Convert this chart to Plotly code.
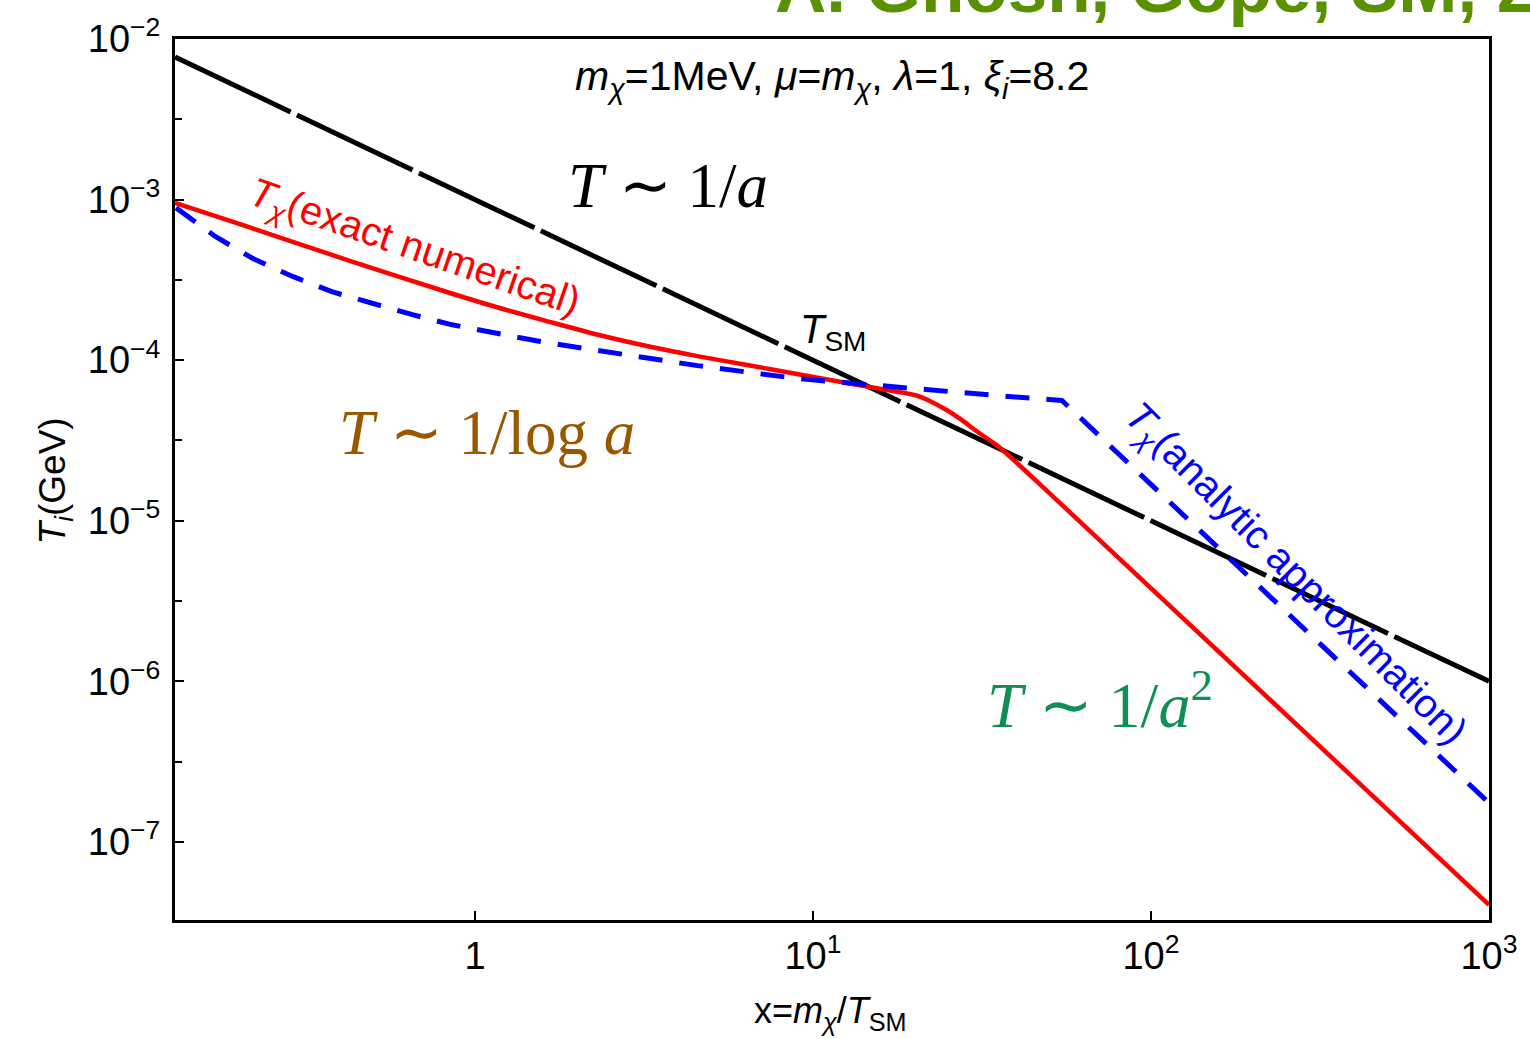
import plotly.graph_objects as go

# ---- data ----
x_sm = [0.1296, 1000.0]
T_sm = [7.72e-3, 1.0e-6]

x_exact = [0.1296, 0.217, 0.426, 0.839, 1.176, 1.65, 2.31, 3.25, 4.55, 6.39, 8.96,
           12.6, 17.6, 20.2, 22.3, 24.7, 27.4, 30.3, 34.7, 37.1, 52.0, 1000.0]
T_exact = [9.55e-4, 6.68e-4, 4.16e-4, 2.63e-4, 2.12e-4, 1.74e-4, 1.44e-4, 1.22e-4,
           1.06e-4, 9.33e-5, 8.20e-5, 7.21e-5, 6.38e-5, 6.03e-5, 5.53e-5, 4.93e-5,
           4.28e-5, 3.65e-5, 2.99e-5, 2.66e-5, 1.38e-5, 4.06e-8]

x_approx = [0.1305, 0.171, 0.221, 0.290, 0.377, 0.498, 0.653, 0.856, 1.16, 1.52,
            2.02, 2.70, 4.55, 8.96, 17.6, 34.7, 54.5, 1000.0]
T_approx = [8.89e-4, 5.87e-4, 4.28e-4, 3.31e-4, 2.67e-4, 2.25e-4, 1.92e-4, 1.66e-4,
            1.46e-4, 1.32e-4, 1.20e-4, 1.10e-4, 9.25e-5, 7.69e-5, 6.76e-5, 6.03e-5,
            5.61e-5, 1.75e-7]

x_tickvals = [1, 10, 100, 1000]
x_ticktext = ["1", "10<sup>1</sup>", "10<sup>2</sup>", "10<sup>3</sup>"]
y_tickvals = [1e-2, 1e-3, 1e-4, 1e-5, 1e-6, 1e-7]
y_ticktext = ["10<sup>−2</sup>", "10<sup>−3</sup>", "10<sup>−4</sup>",
              "10<sup>−5</sup>", "10<sup>−6</sup>", "10<sup>−7</sup>"]
y_minor = [10 ** (-2.5), 10 ** (-3.5), 10 ** (-4.5), 10 ** (-5.5), 10 ** (-6.5), 10 ** (-7.5)]

x_range = [-0.8874, 3.0]
y_range = [-7.486, -2.0]

# ---- layout geometry ----
W, H = 1530, 1039
L, R, T, B = 175, 31, 38, 119
PW, PH = W - L - R, H - T - B


def px(x):
    return (x - L) / PW


def py(y):
    return (H - B - y) / PH


SANS = "Liberation Sans"
SERIF = "Liberation Serif"

fig = go.Figure()
fig.add_trace(go.Scatter(x=x_sm, y=T_sm, mode="lines",
                         line=dict(color="black", width=5, dash="128px,7px"),
                         showlegend=False))
fig.add_trace(go.Scatter(x=x_exact, y=T_exact, mode="lines",
                         line=dict(color="#ff0000", width=4.5, shape="spline", smoothing=0.8),
                         showlegend=False))
fig.add_trace(go.Scatter(x=x_approx, y=T_approx, mode="lines",
                         line=dict(color="#0000ff", width=5, dash="24px,17px"),
                         showlegend=False))

ann = []


def add(text, x, y, size, color="black", family=SANS, angle=0, xanchor="center", yanchor="middle"):
    ann.append(dict(text=text, x=px(x), y=py(y), xref="paper", yref="paper",
                    showarrow=False, textangle=angle, xanchor=xanchor, yanchor=yanchor,
                    font=dict(family=family, size=size, color=color)))


add("<i>m</i><sub><i>χ</i></sub>=1MeV, <i>μ</i>=<i>m</i><sub><i>χ</i></sub>, <i>λ</i>=1, <i>ξ</i><sub><i>i</i></sub>=8.2",
    837, 78, 41)
add("<i>T</i> ∼ 1/<i>a</i>", 672, 185, 63, family=SERIF)
add("<i>T</i><sub>SM</sub>", 838, 331, 40)
add("<i>T</i> ∼ 1/log <i>a</i>", 489, 432, 63, color="#995700", family=SERIF)
add("<i>T</i> ∼ 1/<i>a</i><sup>2</sup>", 1107, 700, 64, color="#0f8f55", family=SERIF)
add("<i>T</i><sub><i>χ</i></sub>(exact numerical)", 416, 248, 40, color="#ff0000", angle=19)
add("<i>T</i><sub><i>χ</i></sub>(analytic approximation)", 1303, 575, 40, color="#0000ff", angle=45)
add("<i>T</i><sub><i>i</i></sub>(GeV)", 55, 480, 37, angle=-90)
add("x=<i>m</i><sub><i>χ</i></sub>/<i>T</i><sub>SM</sub>", 835, 1013, 36)
add("<b>A. Ghosh, Gope, SM, 2022</b>", 778, -14, 71, color="#5a9100", xanchor="left")

fig.update_layout(
    width=W, height=H,
    margin=dict(l=L, r=R, t=T, b=B),
    paper_bgcolor="white", plot_bgcolor="white",
    annotations=ann,
    font=dict(family=SANS, size=38, color="black"),
)
fig.update_xaxes(type="log", range=x_range, showgrid=False, zeroline=False,
                 showline=True, linecolor="black", linewidth=3, mirror=True,
                 ticks="inside", ticklen=9, tickwidth=2, tickcolor="black",
                 tickvals=x_tickvals, ticktext=x_ticktext, ticklabelstandoff=0,
                 ticklabeloverflow="allow",
                 tickfont=dict(family=SANS, size=38))
fig.update_yaxes(type="log", range=y_range, showgrid=False, zeroline=False,
                 showline=True, linecolor="black", linewidth=3, mirror=True,
                 ticks="inside", ticklen=9, tickwidth=2, tickcolor="black",
                 tickvals=y_tickvals, ticktext=y_ticktext, ticklabelstandoff=4,
                 ticklabeloverflow="allow",
                 tickfont=dict(family=SANS, size=38),
                 minor=dict(tickvals=y_minor, ticks="inside", ticklen=7, tickwidth=2,
                            tickcolor="black", showgrid=False))

fig.write_html("out.html")
